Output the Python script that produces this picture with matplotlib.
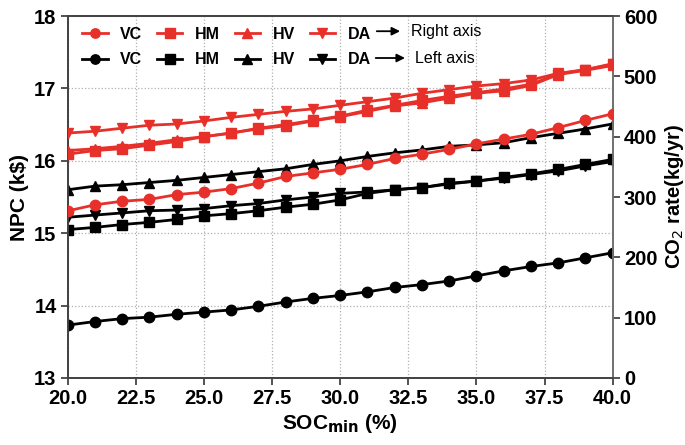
import matplotlib
matplotlib.use("Agg")
import matplotlib.pyplot as plt
import numpy as np
from matplotlib.ticker import MultipleLocator, FormatStrFormatter

plt.rcParams['font.family'] = ['Liberation Sans', 'DejaVu Sans']

soc = list(range(20, 41))

# Left axis: NPC (k$)
npc_vc = [13.73, 13.78, 13.82, 13.84, 13.88, 13.91, 13.94, 13.99, 14.05, 14.10, 14.14,
          14.19, 14.25, 14.29, 14.34, 14.41, 14.48, 14.54, 14.59, 14.66, 14.73]
npc_hm = [15.05, 15.08, 15.12, 15.15, 15.19, 15.24, 15.27, 15.31, 15.36, 15.40, 15.46,
          15.55, 15.60, 15.63, 15.69, 15.72, 15.77, 15.82, 15.88, 15.95, 16.02]
npc_hv = [15.60, 15.65, 15.67, 15.70, 15.73, 15.77, 15.81, 15.85, 15.89, 15.95, 16.00,
          16.06, 16.11, 16.15, 16.20, 16.22, 16.25, 16.32, 16.38, 16.44, 16.51]
npc_da = [15.22, 15.25, 15.28, 15.31, 15.32, 15.34, 15.38, 15.41, 15.46, 15.50, 15.55,
          15.57, 15.60, 15.63, 15.68, 15.72, 15.76, 15.81, 15.86, 15.93, 15.99]

# Right axis: CO2 rate (kg/yr)
co2_vc = [277, 287, 293, 296, 304, 308, 314, 323, 334, 340, 346,
          354, 364, 371, 379, 388, 396, 404, 415, 427, 438]
co2_hm = [371, 377, 380, 386, 392, 400, 406, 414, 420, 427, 434,
          444, 452, 460, 467, 473, 479, 487, 504, 511, 520]
co2_hv = [377, 380, 384, 389, 395, 400, 406, 413, 418, 426, 433,
          442, 451, 456, 464, 472, 476, 485, 503, 510, 518]
co2_da = [406, 409, 414, 419, 421, 426, 432, 437, 442, 446, 452,
          458, 464, 472, 478, 484, 488, 494, 505, 511, 521]

labels = ['VC', 'HM', 'HV', 'DA']
markers = ['o', 's', '^', 'v']
RED = '#e8302a'

fig = plt.figure(figsize=(6.85, 4.45), dpi=100)
ax = fig.add_axes([0.0988, 0.1506, 0.7957, 0.8134])
ax2 = ax.twinx()

black_handles = []
for vals, lab, mk in zip([npc_vc, npc_hm, npc_hv, npc_da], labels, markers):
    h, = ax.plot(soc, vals, color='black', lw=2.0, marker=mk, ms=7.5,
                 markeredgecolor='black', label=lab, zorder=3)
    black_handles.append(h)

red_handles = []
for vals, lab, mk in zip([co2_vc, co2_hm, co2_hv, co2_da], labels, markers):
    h, = ax2.plot(soc, vals, color=RED, lw=2.0, marker=mk, ms=7.5,
                  markeredgecolor=RED, label=lab, zorder=3)
    red_handles.append(h)

ax.set_xlim(20, 40)
ax.set_ylim(13, 18)
ax2.set_ylim(0, 600)
ax.xaxis.set_major_locator(MultipleLocator(2.5))
ax.xaxis.set_major_formatter(FormatStrFormatter('%.1f'))
ax.yaxis.set_major_locator(MultipleLocator(1))
ax2.yaxis.set_major_locator(MultipleLocator(100))

ax.grid(True, linestyle=':', color='#b0b0b0', lw=0.9)
ax.set_axisbelow(True)

for a in (ax, ax2):
    a.tick_params(labelsize=14.5, width=1.3, length=5, color='#444444', pad=3)
    for lab in a.get_xticklabels() + a.get_yticklabels():
        lab.set_fontweight('bold')
    for sp in a.spines.values():
        sp.set_linewidth(1.3)
        sp.set_color('#444444')
ax2.spines['right'].set_color('#777777')

ax.set_ylabel('NPC (k$)', fontsize=15, fontweight='bold', labelpad=4)
ax2.set_ylabel('CO$_2$ rate(kg/yr)', fontsize=14.5, fontweight='bold', labelpad=4)
ax.set_xlabel('SOC$_{\\mathbf{min}}$ (%)', fontsize=15, fontweight='bold', labelpad=3)

handles = []
for r, b in zip(red_handles, black_handles):
    handles += [r, b]
leg = ax2.legend(handles=handles, labels=[h.get_label() for h in handles], ncol=4,
                 loc='upper left', bbox_to_anchor=(0.0, 1.01), frameon=False,
                 prop={'weight': 'bold', 'size': 11.5}, handlelength=1.6,
                 handletextpad=0.8, columnspacing=0.9, labelspacing=0.65,
                 markerscale=0.9)

ax2.annotate('', xy=(0.615, 0.958), xytext=(0.562, 0.958), xycoords='axes fraction',
             arrowprops=dict(arrowstyle='-|>', color='black', lw=1.3, mutation_scale=12))
ax2.text(0.63, 0.958, 'Right axis', transform=ax2.transAxes, fontsize=11.5,
         va='center', ha='left')
ax2.annotate('', xy=(0.624, 0.884), xytext=(0.560, 0.884), xycoords='axes fraction',
             arrowprops=dict(arrowstyle='-|>', color='black', lw=1.3, mutation_scale=12))
ax2.text(0.638, 0.884, 'Left axis', transform=ax2.transAxes, fontsize=11.5,
         va='center', ha='left')

fig.savefig('out.png', dpi=100)
